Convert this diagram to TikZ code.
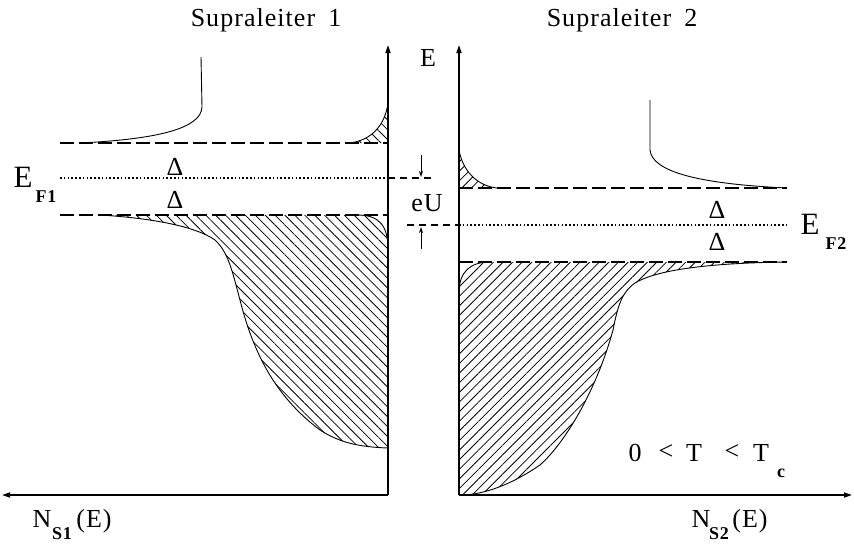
\documentclass[tikz,border=0pt]{standalone}
\usepackage{fontspec}
\setmainfont{Liberation Serif}[LetterSpace=4]
\usetikzlibrary{arrows.meta,patterns.meta}
\begin{document}
\begin{tikzpicture}[x=1pt,y=-1pt,
  axis/.style={line width=1.6pt,-{Triangle[length=8pt,width=5pt]}},
  curve/.style={line width=0.9pt},
  gapline/.style={line width=1.5pt,dash pattern=on 14pt off 5pt},
  fermi/.style={line width=1.4pt,dash pattern=on 1.6pt off 2.2pt},
  shiftline/.style={line width=1.3pt,dash pattern=on 7pt off 5pt},
  hatchL/.style={pattern={Lines[angle=-45,distance=7pt,line width=0.8pt]}},
  hatchR/.style={pattern={Lines[angle=45,distance=6.8pt,line width=0.8pt]}},
  lbl/.style={inner sep=0pt,font=\fontsize{26}{30}\selectfont},
  big/.style={inner sep=0pt,font=\fontsize{31}{35}\selectfont},
  sub/.style={inner sep=0pt,font=\fontsize{18}{21}\selectfont\bfseries},
  small/.style={-{Stealth[length=6pt,width=4pt]},line width=1pt}]
\useasboundingbox (0,0) rectangle (854,544);

% axes coordinates
\coordinate (O1) at (388,495); \coordinate (Y1) at (388,45); \coordinate (X1) at (2,495);
\coordinate (O2) at (459,495); \coordinate (Y2) at (459,45); \coordinate (X2) at (852,495);

% ---------- hatched regions, left ----------
\fill[hatchL] (350,143) .. controls (372,140) and (385,125) .. (388,103) -- (388,143) -- cycle;
\draw[curve] (350,143) .. controls (372,140) and (385,125) .. (388,103);
\fill[hatchL] (100,215) .. controls (150,218) and (195,226) .. (215,240)
   .. controls (228,252) and (232,270) .. (240,300)
   .. controls (255,360) and (280,400) .. (320,430)
   .. controls (340,443) and (360,447) .. (388,448)
   -- (388,250) .. controls (388,226) and (380,215) .. (357,215) -- cycle;
\draw[curve] (100,215) .. controls (150,218) and (195,226) .. (215,240)
   .. controls (228,252) and (232,270) .. (240,300)
   .. controls (255,360) and (280,400) .. (320,430)
   .. controls (340,443) and (360,447) .. (388,448);
\draw[curve] (388,250) .. controls (388,226) and (380,215) .. (357,215);
% upper DOS curve left
\draw[curve] (201,57) -- (202,107) .. controls (201,128) and (160,139) .. (80,143);

% ---------- hatched regions, right ----------
\fill[hatchR] (459,150) .. controls (463,172) and (478,186) .. (497,188) -- (459,188) -- cycle;
\draw[curve] (459,150) .. controls (463,172) and (478,186) .. (497,188);
\fill[hatchR] (490,262) -- (785,262) .. controls (720,263) and (660,268) .. (635,283)
   .. controls (622,292) and (618,305) .. (613,330)
   .. controls (598,385) and (568,440) .. (540,465)
   .. controls (515,482) and (490,493) .. (465,495) -- (459,495) -- (459,293)
   .. controls (459,272) and (470,262) .. (490,262) -- cycle;
\draw[curve] (785,262) .. controls (720,263) and (660,268) .. (635,283)
   .. controls (622,292) and (618,305) .. (613,330)
   .. controls (598,385) and (568,440) .. (540,465)
   .. controls (515,482) and (490,493) .. (465,495);
\draw[curve] (459,293) .. controls (459,272) and (470,262) .. (490,262);
% upper DOS curve right
\draw[curve] (650,100) -- (650,150) .. controls (652,172) and (700,184) .. (787,188);

% ---------- level lines ----------
\draw[gapline] (60,143) -- (388,143);
\draw[fermi] (60,178) -- (388,178);
\draw[gapline] (60,215) -- (388,215);
\draw[shiftline] (388,178) -- (434,178);
\draw[gapline] (459,188) -- (787,188);
\draw[fermi] (459,225) -- (787,225);
\draw[gapline] (459,262) -- (787,262);
\draw[shiftline] (407,225) -- (459,225);

% ---------- axes ----------
\draw[axis] (O1) -- (Y1);
\draw[axis] (O1) -- (X1);
\draw[axis] (O2) -- (Y2);
\draw[axis] (O2) -- (X2);

% ---------- eU arrows ----------
\coordinate (ua) at (421,155); \coordinate (ub) at (421,177);
\coordinate (la) at (421,249); \coordinate (lb) at (421,227);
\draw[small] (ua) -- (ub);
\draw[small] (la) -- (lb);

% ---------- labels ----------
\node[lbl] (t1) at (266,20) {Supraleiter\enspace 1};
\node[lbl] (t2) at (622,20) {Supraleiter\enspace 2};
\node[lbl] (E) at (428,58) {E};
\node[lbl] (eU) at (427,203) {eU};
\node[lbl] (d1) at (175,167) {Δ};
\node[lbl] (d2) at (175,200) {Δ};
\node[lbl] (d3) at (717,210) {Δ};
\node[lbl] (d4) at (717,242) {Δ};
\node[big] (ef1) at (23,177) {E};
\node[sub] (f1) at (46,197) {F1};
\node[big] (ef2) at (810,224) {E};
\node[sub] (f2) at (836,244) {F2};

\node[lbl,anchor=base] (n0) at (635,461) {0};
\node[lbl,anchor=base] (lt1) at (666,459) {<};
\node[lbl,anchor=base] (T1) at (694,461) {T};
\node[lbl,anchor=base] (lt2) at (732,459) {<};
\node[lbl,anchor=base] (T2) at (761,461) {T};
\node[sub,anchor=base] (tc) at (781,477) {c};

\node[lbl,anchor=base] (N1) at (42,527) {N};
\node[sub,anchor=base] (s1) at (62,539) {S1};
\node[lbl,anchor=base] (e1) at (94,527) {(E)};
\node[lbl,anchor=base] (N2) at (701,527) {N};
\node[sub,anchor=base] (s2) at (719,539) {S2};
\node[lbl,anchor=base] (e2) at (750,527) {(E)};
\end{tikzpicture}
\end{document}
